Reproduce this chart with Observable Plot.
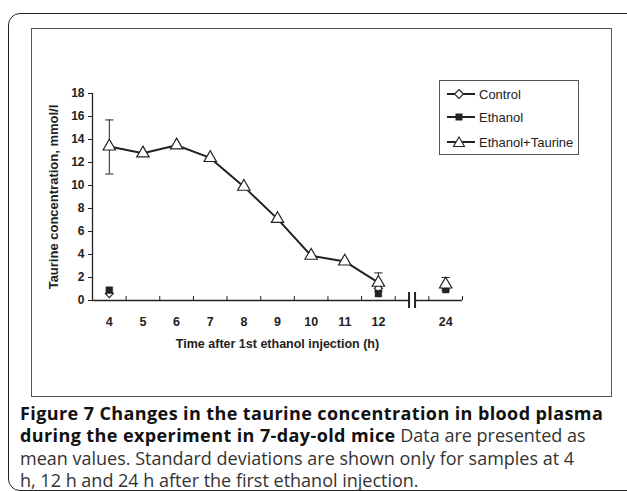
<!DOCTYPE html>
<html>
<head>
<meta charset="utf-8">
<script src="https://cdn.jsdelivr.net/npm/d3@7"></script>
<script src="https://cdn.jsdelivr.net/npm/@observablehq/plot@0.6"></script>
<style>
  html, body { margin: 0; padding: 0; background: #fff; }
  #page { position: relative; width: 627px; height: 491px; overflow: hidden; background: #fff; }
  #outer { position: absolute; left: 8px; top: 13px; width: 640px; height: 476px; border: 1.5px solid #222; border-radius: 12px; }
  #box { position: absolute; left: 31px; top: 28px; width: 579px; height: 367px; border: 1px solid #555; }
  #chart { position: absolute; left: 31px; top: 28px; }
  #legend { position: absolute; left: 439px; top: 80px; width: 138px; height: 73px; border: 1px solid #555; background: #fff;
            font-family: Arial, "Liberation Sans", sans-serif; font-size: 13px; color: #222; }
  .item { position: absolute; left: 7px; height: 16px; display: flex; align-items: center; }
  .item svg { margin-right: 4px; }
  #caption { position: absolute; left: 20px; top: 402px; font-family: "Open Sans", sans-serif; font-size: 18px; line-height: 22.3px; color: #333; white-space: nowrap; }
  #caption b { color: #111; font-weight: 700; letter-spacing: 0.4px; }
</style>
</head>
<body>
<div id="page">
  <div id="outer"></div>
  <div id="box"></div>
  <div id="chart"></div>
  <div id="legend"></div>
  <div id="caption"><b>Figure 7 Changes in the taurine concentration in blood plasma</b><br><b>during the experiment in 7-day-old mice</b> Data are presented as<br>mean values. Standard deviations are shown only for samples at 4<br>h, 12 h and 24 h after the first ethanol injection.</div>
</div>
<script>
// ---- data ----
const xCategories = ["4", "5", "6", "7", "8", "9", "10", "11", "12", "", "24"];
const breakCategory = "";
const yTicks = [0, 2, 4, 6, 8, 10, 12, 14, 16, 18];

const etTimes = [4, 5, 6, 7, 8, 9, 10, 11, 12];
const etValues = [13.4, 12.8, 13.5, 12.4, 9.9, 7.1, 3.9, 3.4, 1.55];
const etTime24 = [24];
const etValue24 = [1.4];

const controlTimes = [4, 12, 24];
const controlValues = [0.6, 1.05, 1.1];
const ethanolTimes = [4, 12, 24];
const ethanolValues = [0.9, 0.6, 0.95];

const sdTimes = [4, 12, 24];
const sdLow = [11.0, 0.8, 0.9];
const sdHigh = [15.7, 2.4, 2.0];

const seriesNames = ["Control", "Ethanol", "Ethanol+Taurine"];

// ---- build ----
const pos = t => xCategories.indexOf(String(t)) + 0.5;
const et = etTimes.map((t, i) => ({x: pos(t), y: etValues[i]}));
const et24 = etTime24.map((t, i) => ({x: pos(t), y: etValue24[i]}));
const ctrl = controlTimes.map((t, i) => ({x: pos(t), y: controlValues[i]}));
const eth = ethanolTimes.map((t, i) => ({x: pos(t), y: ethanolValues[i]}));
const sd = sdTimes.map((t, i) => ({x: pos(t), lo: sdLow[i], hi: sdHigh[i]}));
const bounds = d3.range(0, xCategories.length + 1);
const labelPos = xCategories.map((c, i) => ({x: i + 0.5, label: c}));
const breakPos = xCategories.indexOf(breakCategory) + 0.5;

const cap = {draw(ctx, size) { const w = Math.sqrt(size); ctx.moveTo(-w, 0); ctx.lineTo(w, 0); }};
const diamond = d3.symbolDiamond2 || d3.symbolDiamond;
const ink = "#222";
const font = 'Arial, "Liberation Sans", sans-serif';

const plot = Plot.plot({
  width: 580,
  height: 368,
  marginLeft: 61,
  marginRight: 149,
  marginTop: 65,
  marginBottom: 96,
  style: {fontFamily: font, fontSize: "12px", fontWeight: "bold", color: ink, background: "transparent"},
  x: {type: "linear", domain: [0, xCategories.length], axis: null},
  y: {domain: [0, 18], axis: null},
  marks: [
    // axes lines
    Plot.ruleX([0], {y1: 0, y2: 18, stroke: ink, strokeWidth: 1.3}),
    Plot.ruleY([0], {x1: 0, x2: xCategories.length, stroke: ink, strokeWidth: 1.3}),
    // y ticks + labels
    Plot.axisY({ticks: yTicks, tickSize: 4, tickPadding: 4, tickFormat: d => d, label: null, stroke: ink, fontWeight: "bold", fontSize: 12}),
    // x tick marks (upward, at category boundaries)
    Plot.axisX({ticks: bounds, tickSize: -4, tickFormat: () => "", label: null, stroke: ink}),
    // x labels at category centers
    Plot.text(labelPos, {x: "x", y: 0, text: "label", dy: 21, fill: ink, fontWeight: "bold", fontSize: 12.5}),
    // axis break
    Plot.dot([breakPos], {x: d => d, y: 0, symbol: "square", r: 3.2, fill: "white", stroke: "none"}),
    Plot.ruleX([breakPos], {x: d => d, y1: 0, y2: 0, dx: -3, insetTop: -8, insetBottom: -8, stroke: ink, strokeWidth: 2}),
    Plot.ruleX([breakPos], {x: d => d, y1: 0, y2: 0, dx: 3, insetTop: -8, insetBottom: -8, stroke: ink, strokeWidth: 2}),
    // axis titles
    Plot.text(["Time after 1st ethanol injection (h)"], {frameAnchor: "bottom", dy: 47, fill: ink, fontWeight: "bold", fontSize: 12.5}),
    Plot.text(["Taurine concentration, mmol/l"], {frameAnchor: "left", textAnchor: "middle", dx: -39, rotate: -90, fill: ink, fontWeight: "bold", fontSize: 13}),
    // series
    Plot.line(et, {x: "x", y: "y", stroke: ink, strokeWidth: 2}),
    Plot.ruleX(sd, {x: "x", y1: "lo", y2: "hi", stroke: ink, strokeWidth: 1}),
    Plot.dot(sd, {x: "x", y: "hi", symbol: cap, r: 2.3, stroke: ink, strokeWidth: 1}),
    Plot.dot(sd, {x: "x", y: "lo", symbol: cap, r: 2.3, stroke: ink, strokeWidth: 1}),
    Plot.dot(ctrl, {x: "x", y: "y", symbol: diamond, r: 3.6, fill: "white", stroke: ink, strokeWidth: 1.2}),
    Plot.dot(eth, {x: "x", y: "y", symbol: "square", r: 3.8, fill: ink, stroke: ink, strokeWidth: 0.5}),
    Plot.dot(et, {x: "x", y: "y", symbol: "triangle", r: 4.6, fill: "white", stroke: ink, strokeWidth: 1.2}),
    Plot.dot(et24, {x: "x", y: "y", symbol: "triangle", r: 4.6, fill: "white", stroke: ink, strokeWidth: 1.2})
  ]
});
document.getElementById("chart").appendChild(plot);

// legend
const legend = document.getElementById("legend");
const legendY = [5, 28, 53];
const symbolSvg = [
  '<path d="M12,1.5 L16.5,6 L12,10.5 L7.5,6 Z" fill="white" stroke="#222" stroke-width="1.1"/>',
  '<rect x="8.5" y="2.5" width="7" height="7" fill="#222"/>',
  '<path d="M12,1 L17.5,10.5 L6.5,10.5 Z" fill="white" stroke="#222" stroke-width="1.1"/>'
];
seriesNames.forEach((name, i) => {
  const div = document.createElement("div");
  div.className = "item";
  div.style.top = legendY[i] + "px";
  div.innerHTML = `<svg width="28" height="12"><line x1="0" x2="28" y1="6" y2="6" stroke="#222" stroke-width="2"/>${symbolSvg[i]}</svg><span>${name}</span>`;
  legend.appendChild(div);
});
</script>
</body>
</html>
